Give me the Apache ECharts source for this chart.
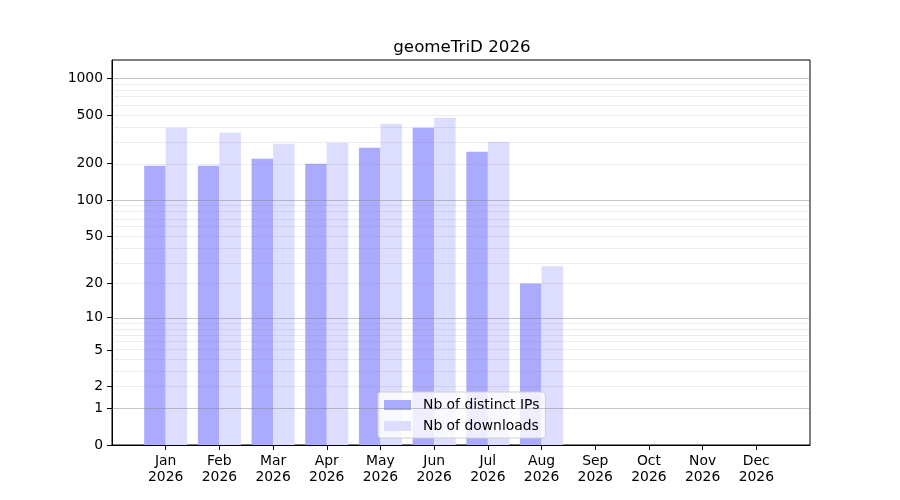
<!DOCTYPE html>
<html>
<head>
<meta charset="utf-8">
<title>geomeTriD 2026</title>
<script src="https://cdn.jsdelivr.net/npm/echarts@6.0.0/dist/echarts.min.js"></script>
<style>
    html, body { margin: 0; padding: 0; background: #fff; }
    #chart { width: 900px; height: 500px; }
</style>
</head>
<body>
<div id="chart"></div>
<script>
// data
var months = ["Jan", "Feb", "Mar", "Apr", "May", "Jun", "Jul", "Aug", "Sep", "Oct", "Nov", "Dec"];
var year = "2026";
var distinctIPs = [192, 192, 219, 199, 269, 393, 250, 20, 0, 0, 0, 0];
var downloads = [393, 358, 291, 296, 424, 475, 302, 28, 0, 0, 0, 0];
var yTicks = [0, 1, 2, 5, 10, 20, 50, 100, 200, 500, 1000];
var majorGrid = [1, 10, 100, 1000];
var minorGrid = [2, 3, 4, 5, 6, 7, 8, 9, 20, 30, 40, 50, 60, 70, 80, 90, 200, 300, 400, 500, 600, 700, 800, 900];

// y scale is log10(v + 1)
function tr(v) {
    return Math.log10(v + 1);
}

// one empty slot each side so the months sit like in the original plot
function pad(arr, fill) {
    return [fill].concat(arr).concat([fill]);
}

var chart;
window.onload = function () {
    chart = echarts.init(document.getElementById('chart'));
    var font = "DejaVu Sans";

    var gridLines = [];
    majorGrid.forEach(function (t) {
        gridLines.push({yAxis: tr(t), lineStyle: {color: "rgba(128,128,128,0.45)", width: 1, type: "solid"}});
    });
    minorGrid.forEach(function (t) {
        gridLines.push({yAxis: tr(t), lineStyle: {color: "rgba(128,128,128,0.14)", width: 1, type: "solid"}});
    });

    var cats = pad(months.map(function (m) { return m + "\n" + year; }), "");

    var option = {
        animation: false,
        title: {
            text: "geomeTriD " + year,
            left: 457,
            top: 34,
            textAlign: "center",
            textStyle: {fontFamily: font, fontSize: 16.7, fontWeight: "normal", color: "#000"}
        },
        legend: {
            data: ["Nb of distinct IPs", "Nb of downloads"],
            orient: "vertical",
            left: 378,
            top: 392,
            itemWidth: 27,
            itemHeight: 10,
            itemGap: 7,
            padding: [6, 6, 5, 6],
            icon: "rect",
            backgroundColor: "rgba(255,255,255,0.8)",
            borderColor: "#d0d0d0",
            borderWidth: 1,
            borderRadius: 3,
            textStyle: {fontFamily: font, fontSize: 13.9, color: "#000", padding: [0, 0, 0, 7]}
        },
        grid: {
            left: 112,
            right: 90,
            top: 60,
            bottom: 55,
            show: true,
            borderColor: "#000",
            borderWidth: 1
        },
        xAxis: {
            type: "category",
            data: cats,
            boundaryGap: false,
            axisLine: {lineStyle: {color: "#000"}},
            axisTick: {
                length: 5,
                lineStyle: {color: "#000"},
                interval: function (i) { return i > 0 && i <= months.length; }
            },
            axisLabel: {
                interval: 0,
                margin: 8,
                fontFamily: font,
                fontSize: 13.9,
                lineHeight: 16,
                color: "#000"
            },
            splitLine: {show: false}
        },
        yAxis: {
            type: "value",
            min: 0,
            max: 3.15,
            axisLine: {show: true, lineStyle: {color: "#000"}},
            axisTick: {
                show: true,
                length: 5,
                lineStyle: {color: "#000"},
                customValues: yTicks.map(tr)
            },
            axisLabel: {
                margin: 9,
                fontFamily: font,
                fontSize: 13.9,
                color: "#000",
                customValues: yTicks.map(tr),
                formatter: function (v) {
                    return String(Math.round(Math.pow(10, v) - 1));
                }
            },
            splitLine: {show: false}
        },
        series: [{
            name: "Nb of distinct IPs",
            type: "bar",
            barWidth: 21.5,
            barGap: "0%",
            itemStyle: {color: "#aaaaff", borderWidth: 0},
            data: pad(distinctIPs.map(tr), null),
            markLine: {
                silent: true,
                symbol: "none",
                label: {show: false},
                data: gridLines
            }
        }, {
            name: "Nb of downloads",
            type: "bar",
            barWidth: 21.5,
            barGap: "0%",
            itemStyle: {color: "#ddddff", borderWidth: 0},
            data: pad(downloads.map(tr), null)
        }]
    };
    chart.setOption(option);
};
</script>
</body>
</html>
